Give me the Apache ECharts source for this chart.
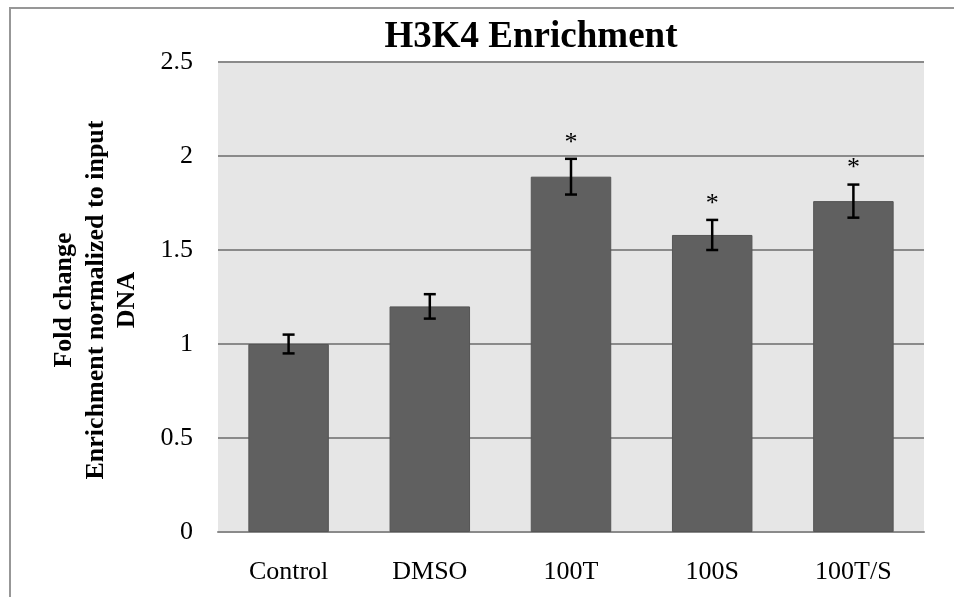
<!DOCTYPE html>
<html><head><meta charset="utf-8">
<script src="https://cdn.jsdelivr.net/npm/echarts@6/dist/echarts.min.js"></script>
<style>html,body{margin:0;padding:0;background:#fff}#c{width:954px;height:597px}</style>
</head><body><div id="c"></div>
<script>
const categories = ['Control', 'DMSO', '100T', '100S', '100T/S'];
const values = [1.00, 1.20, 1.89, 1.58, 1.76];
const errors = [0.05, 0.065, 0.095, 0.08, 0.088];
const significant = [false, false, true, true, true];
const yTicks = [0, 0.5, 1, 1.5, 2, 2.5];

const chart = echarts.init(document.getElementById('c'));
const serif = '"Liberation Serif", "Times New Roman", serif';
chart.setOption({
  animation: false,
  title: {
    text: 'H3K4 Enrichment', left: 526, top: 14, textAlign: 'center',
    textStyle: { fontFamily: serif, fontWeight: 'bold', fontSize: 37, color: '#000' }
  },
  graphic: [
    { type: 'polyline', shape: { points: [[10, 597], [10, 8], [954, 8]] }, style: { stroke: '#979797', lineWidth: 2, fill: null }, silent: true },
    { type: 'text', rotation: Math.PI / 2, x: 64, y: 300,
      style: { text: 'Fold change', font: 'bold 26px ' + serif, fill: '#000', align: 'center', verticalAlign: 'middle' } },
    { type: 'text', rotation: Math.PI / 2, x: 96, y: 300,
      style: { text: 'Enrichment normalized to input', font: 'bold 26px ' + serif, fill: '#000', align: 'center', verticalAlign: 'middle' } },
    { type: 'text', rotation: Math.PI / 2, x: 127, y: 300,
      style: { text: 'DNA', font: 'bold 26px ' + serif, fill: '#000', align: 'center', verticalAlign: 'middle' } }
  ],
  grid: { left: 218, top: 62, right: 30, bottom: 65, show: true, backgroundColor: '#e6e6e6', borderWidth: 0 },
  xAxis: {
    type: 'category', data: categories,
    axisLine: { show: true, lineStyle: { color: '#8a8a8a', width: 2 } },
    axisTick: { show: false },
    axisLabel: { fontFamily: serif, fontSize: 26, color: '#000', margin: 27 }
  },
  yAxis: {
    type: 'value', min: yTicks[0], max: yTicks[yTicks.length - 1], interval: 0.5,
    axisLine: { show: false }, axisTick: { show: false },
    axisLabel: { fontFamily: serif, fontSize: 26, color: '#000', margin: 25 },
    splitLine: { lineStyle: { color: '#8a8a8a', width: 2 } }
  },
  series: [
    {
      type: 'bar', data: values, barWidth: '57%',
      itemStyle: { color: '#606060', borderColor: '#555', borderWidth: 1 }
    },
    {
      type: 'custom', z: 10,
      data: values.map((v, i) => [i, v, errors[i], significant[i] ? 1 : 0]),
      renderItem: function (params, api) {
        const x = api.value(0), v = api.value(1), e = api.value(2), s = api.value(3);
        const top = api.coord([x, v + e]);
        const bot = api.coord([x, v - e]);
        const hw = 6;
        const st = { stroke: '#000', lineWidth: 2.5 };
        const children = [
          { type: 'line', shape: { x1: top[0], y1: top[1], x2: bot[0], y2: bot[1] }, style: st },
          { type: 'line', shape: { x1: top[0] - hw, y1: top[1], x2: top[0] + hw, y2: top[1] }, style: st },
          { type: 'line', shape: { x1: bot[0] - hw, y1: bot[1], x2: bot[0] + hw, y2: bot[1] }, style: st }
        ];
        if (s) {
          children.push({ type: 'text', x: top[0], y: top[1] - 16,
            style: { text: '*', font: '26px ' + serif, fill: '#000', align: 'center', verticalAlign: 'middle' } });
        }
        return { type: 'group', children: children };
      }
    }
  ]
});
</script></body></html>
